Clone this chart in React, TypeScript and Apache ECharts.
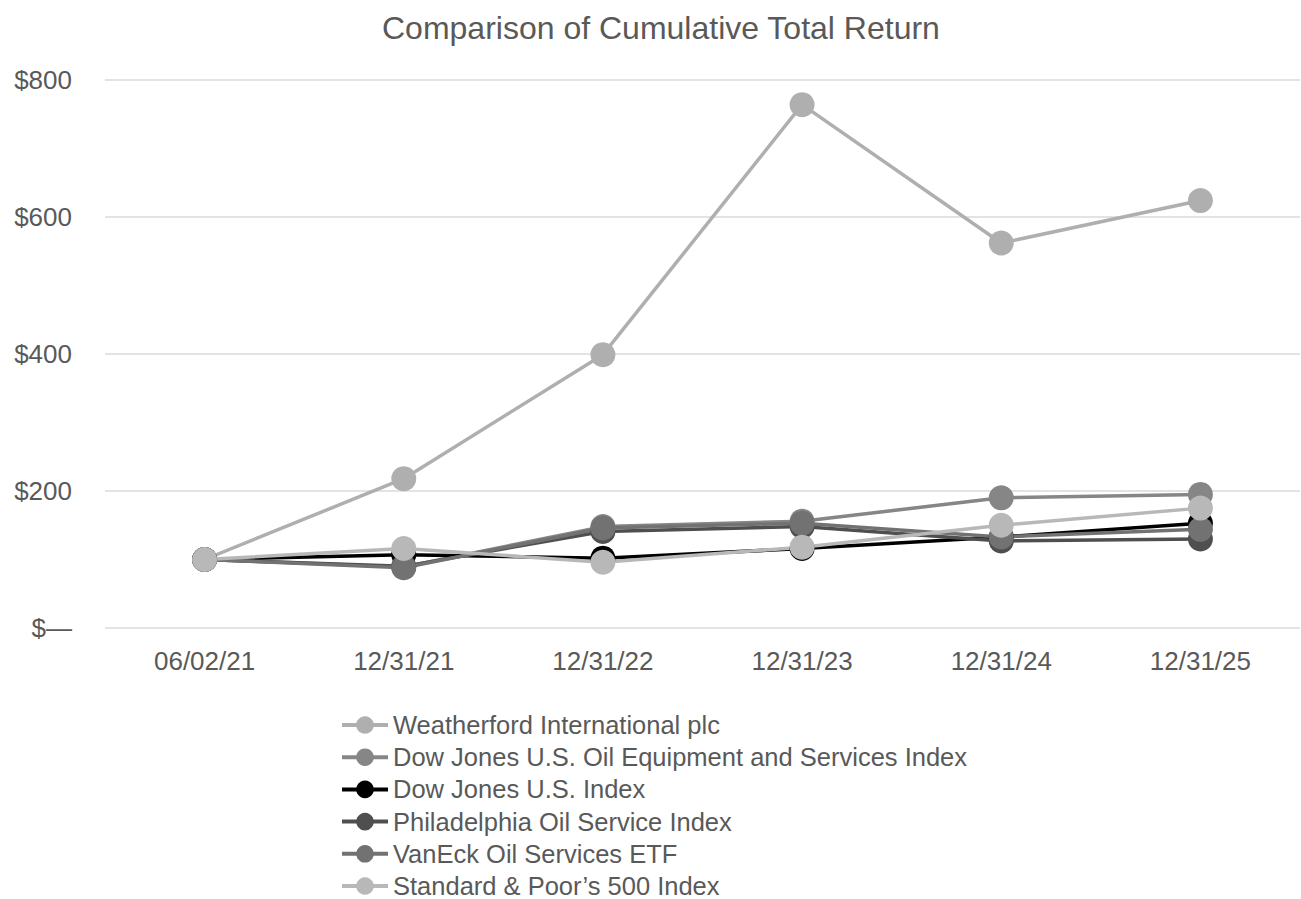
import React, { useEffect, useRef } from "react";
import * as echarts from "echarts";

const categories = ["06/02/21", "12/31/21", "12/31/22", "12/31/23", "12/31/24", "12/31/25"];
const weatherford = [100, 218, 399, 764, 562, 624];
const djOilEquip = [100, 89, 148, 156, 190, 195];
const djUS = [100, 107, 102, 116, 133, 153];
const phlxOilService = [100, 90, 141, 148, 127, 130];
const vanEckOil = [100, 88, 146, 153, 133, 144];
const sp500 = [100, 116, 96, 118, 150, 175];

const seriesDefs = [
  { name: "Weatherford International plc", data: weatherford, color: "#afafaf" },
  { name: "Dow Jones U.S. Oil Equipment and Services Index", data: djOilEquip, color: "#868686" },
  { name: "Dow Jones U.S. Index", data: djUS, color: "#000000" },
  { name: "Philadelphia Oil Service Index", data: phlxOilService, color: "#4f4f4f" },
  { name: "VanEck Oil Services ETF", data: vanEckOil, color: "#727272" },
  { name: "Standard & Poor\u2019s 500 Index", data: sp500, color: "#b8b8b8" },
];

export default function App() {
  const ref = useRef<HTMLDivElement>(null);
  useEffect(() => {
    document.body.style.margin = "0";
    document.body.style.overflow = "hidden";
    if (!ref.current) return;
    const chart = echarts.init(ref.current, undefined, { renderer: "svg" });
    const font = "'Liberation Sans', Arial, sans-serif";
    chart.setOption({
      animation: false,
      textStyle: { fontFamily: font },
      title: {
        text: "Comparison of Cumulative Total Return",
        left: 377,
        top: 7,
        textStyle: { fontSize: 32, fontWeight: "normal", color: "#595959", fontFamily: font },
      },
      grid: { left: 105, width: 1195, top: 80, height: 548, containLabel: false },
      xAxis: {
        type: "category",
        data: categories,
        boundaryGap: true,
        axisLine: { show: false },
        axisTick: { show: false },
        axisLabel: { fontSize: 26, color: "#595959", margin: 20, fontFamily: font },
      },
      yAxis: {
        type: "value",
        min: 0,
        max: 800,
        interval: 200,
        axisLine: { show: false },
        axisTick: { show: false },
        splitLine: { lineStyle: { color: "#e3e3e3", width: 2 } },
        axisLabel: {
          fontSize: 26,
          color: "#595959",
          margin: 33,
          fontFamily: font,
          formatter: (v: number) => (v === 0 ? "$\u2014" : "$" + v),
        },
      },
      legend: {
        orient: "vertical",
        left: 335,
        top: 707,
        height: 240,
        itemWidth: 46,
        itemHeight: 22,
        itemGap: 6.2,
        lineStyle: { width: 4 },
        textStyle: { fontSize: 25.5, lineHeight: 26, color: "#595959", fontFamily: font },
        data: seriesDefs.map((s) => s.name),
      },
      series: seriesDefs.map((s) => ({
        name: s.name,
        type: "line",
        data: s.data,
        color: s.color,
        symbol: "circle",
        symbolSize: 25,
        lineStyle: { width: 3.5, color: s.color },
        itemStyle: { color: s.color },
      })),
    });
    return () => chart.dispose();
  }, []);
  return <div ref={ref} style={{ width: 1301, height: 899 }} />;
}
